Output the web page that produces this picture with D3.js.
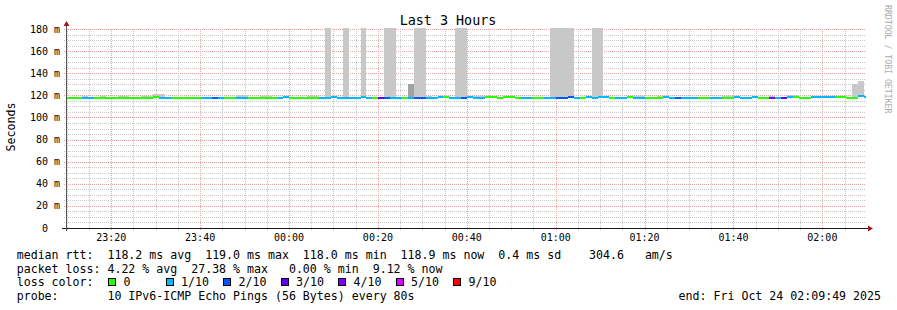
<!DOCTYPE html>
<html>
<head>
<meta charset="utf-8">
<script src="https://cdn.jsdelivr.net/npm/d3@7"></script>
<style>
  body { margin: 0; background: #fff; }
  svg text { font-family: "DejaVu Sans Mono", monospace; white-space: pre; }
</style>
</head>
<body>
<div id="wrapper"></div>
<script>
// data
const endTime = new Date(2025, 9, 24, 2, 9, 49)
const stepSeconds = 80

const yTickValues = [0, 20, 40, 60, 80, 100, 120, 140, 160, 180]

const lossLevels = [0, 1, 2, 3, 4, 5, 9]
const lossLabels = ["0", "1/10", "2/10", "3/10", "4/10", "5/10", "9/10"]

// median rtt per 80 s step (ms)
const medianMs = [
  118.0, 118.0, 118.0, 118.0, 118.0, 118.0, 118.0, 118.0, 118.0, 118.0,
  118.0, 118.0, 118.0, 118.0, 118.0, 118.9, 118.0, 118.0, 118.0, 118.0,
  118.0, 118.0, 118.0, 118.0, 118.0, 118.0, 118.0, 118.0, 118.0, 118.0,
  118.0, 118.0, 118.0, 118.0, 118.0, 118.0, 118.0, 118.9, 118.0, 118.0,
  118.0, 118.0, 118.0, 118.0, 118.0, 118.9, 118.0, 118.0, 118.0, 118.0,
  118.9, 118.0, 118.0, 118.0, 118.0, 118.0, 118.0, 118.0, 118.0, 118.0,
  118.0, 118.0, 118.0, 118.9, 118.9, 118.0, 118.0, 118.0, 118.9, 118.0,
  118.0, 118.9, 118.9, 118.0, 118.9, 118.9, 118.0, 118.0, 118.0, 118.0,
  118.0, 118.0, 118.0, 118.0, 118.0, 118.9, 118.0, 118.0, 118.9, 118.0,
  118.9, 118.9, 118.0, 118.0, 118.0, 118.9, 118.0, 118.0, 118.0, 118.0,
  118.0, 118.9, 118.0, 118.0, 118.0, 118.0, 118.0, 118.0, 118.0, 118.0,
  118.0, 118.0, 118.0, 118.9, 118.0, 118.0, 118.9, 118.0, 118.0, 118.0,
  118.0, 118.0, 118.9, 118.9, 118.0, 118.0, 118.6, 118.6, 118.6, 118.6,
  118.9, 118.9, 118.0, 118.0, 119.0, 118.9
]

// lost pings out of 10 per step
const lossCount = [
  0, 0, 0, 1, 1, 0, 0, 0, 0, 0,
  0, 0, 0, 0, 0, 0, 1, 1, 0, 0,
  0, 0, 0, 1, 1, 2, 1, 0, 0, 1,
  1, 0, 0, 0, 0, 0, 1, 1, 0, 0,
  0, 0, 0, 1, 1, 1, 1, 1, 1, 1,
  1, 1, 0, 3, 2, 1, 1, 0, 1, 2,
  2, 1, 1, 1, 0, 1, 1, 2, 1, 1,
  1, 0, 0, 0, 0, 0, 0, 1, 1, 0,
  0, 1, 1, 2, 2, 2, 1, 0, 1, 1,
  1, 1, 0, 1, 1, 0, 1, 1, 0, 0,
  0, 1, 1, 2, 1, 1, 1, 0, 0, 1,
  1, 0, 0, 1, 1, 1, 1, 0, 0, 4,
  1, 3, 1, 0, 0, 0, 1, 1, 1, 1,
  0, 0, 0, 0, 1, 1
]

// top of the smoke per step (ms), null where no smoke shows
const smokeTopMs = [
  null, null, null, 119.4, null, null, 119.2, null, null, 119.6,
  119.6, null, null, 119.8, 119.8, 120.9, 120.9, null, null, null,
  null, null, null, null, null, null, null, null, null, 120.2,
  120.2, null, null, 119.6, 119.6, null, null, null, null, null,
  null, 119.4, 119.4, null, 300, null, null, 300, null, null,
  300, null, null, null, 300, 300, null, null, 130.5, 300,
  300, 119.4, null, null, null, null, 300, 300, null, 119.6,
  119.6, null, null, null, null, null, null, null, null, null,
  null, null, 300, 300, 300, 300, null, null, null, 300,
  300, null, null, null, null, null, 119.8, 119.8, null, null,
  119.6, 119.6, null, null, null, null, null, null, null, null,
  null, 119.4, 119.4, null, null, null, null, null, null, 119.6,
  null, null, 120.0, 120.0, null, null, null, null, null, null,
  null, null, null, 130.5, 133.0, null
]

// pings packed in the smoke band (sets the grey shade)
const smokePings = [
  1, 1, 1, 1, 1, 1, 1, 1, 1, 1,
  1, 1, 1, 1, 1, 1, 1, 1, 1, 1,
  1, 1, 1, 1, 1, 1, 1, 1, 1, 1,
  1, 1, 1, 1, 1, 1, 1, 1, 1, 1,
  1, 1, 1, 1, 1, 1, 1, 1, 1, 1,
  1, 1, 1, 1, 1, 1, 1, 1, 3, 1,
  1, 1, 1, 1, 1, 1, 1, 1, 1, 1,
  1, 1, 1, 1, 1, 1, 1, 1, 1, 1,
  1, 1, 1, 1, 1, 1, 1, 1, 1, 1,
  1, 1, 1, 1, 1, 1, 1, 1, 1, 1,
  1, 1, 1, 1, 1, 1, 1, 1, 1, 1,
  1, 1, 1, 1, 1, 1, 1, 1, 1, 1,
  1, 1, 1, 1, 1, 1, 1, 1, 1, 1,
  1, 1, 1, 1, 1, 1
]

const legendLines = [
  "median rtt:  118.2 ms avg  119.0 ms max  118.0 ms min  118.9 ms now  0.4 ms sd    304.6   am/s",
  "packet loss: 4.22 % avg  27.38 % max   0.00 % min  9.12 % now",
  "loss color:",
  "probe:       10 IPv6-ICMP Echo Pings (56 Bytes) every 80s"
]
const endLabel = "end: Fri Oct 24 02:09:49 2025"

drawSmokeChart()

function drawSmokeChart() {
  const dimensions = {
    width: 897,
    height: 310,
    left: 66,
    right: 866,
    top: 29,
    bottom: 228,
  }

  const startTime = d3.timeHour.offset(endTime, -3)

  const buckets = medianMs.map((m, i) => {
    const t = +startTime + i * stepSeconds * 1000
    return {
      t0: new Date(Math.max(t - 24000, +startTime)),
      t1: new Date(Math.min(t + 56000, +endTime)),
      median: m,
      loss: lossCount[i],
      top: smokeTopMs[i],
      pings: smokePings[i],
    }
  })

  const svg = d3.select("#wrapper")
    .append("svg")
      .attr("width", dimensions.width)
      .attr("height", dimensions.height)

  // scales
  const xScale = d3.scaleTime()
    .domain([startTime, endTime])
    .range([dimensions.left, dimensions.right])

  const yScale = d3.scaleLinear()
    .domain([0, 180])
    .range([dimensions.bottom, dimensions.top])

  const lossColor = d3.scaleOrdinal()
    .domain(lossLevels)
    .range(["#26ff00", "#00b8ff", "#0059ff", "#5e00ff", "#7e00ff", "#dd00ff", "#ff0000"])

  const smokeColor = d3.scaleLinear()
    .domain([1, 3])
    .range(["#c8c8c8", "#a2a2a2"])

  svg.append("defs").append("clipPath")
    .attr("id", "plot-clip")
    .append("rect")
      .attr("x", dimensions.left)
      .attr("y", dimensions.top - 1)
      .attr("width", dimensions.right - dimensions.left)
      .attr("height", dimensions.bottom - dimensions.top + 1)

  // grid
  const grid = svg.append("g")
    .attr("shape-rendering", "crispEdges")
    .attr("stroke-dasharray", "1,1")

  const yMinor = d3.range(0, 181, 5)
  grid.selectAll(".hgrid")
    .data(yMinor.filter(v => v > 0))
    .enter().append("line")
      .attr("x1", dimensions.left - 2)
      .attr("x2", dimensions.right)
      .attr("y1", d => Math.round(yScale(d)) + 0.5)
      .attr("y2", d => Math.round(yScale(d)) + 0.5)
      .attr("stroke", d => d % 20 === 0 ? "#efa3a3" : "#c8c8c8")

  const xMinor = xScale.ticks(d3.timeMinute.every(5))
  grid.selectAll(".vgrid")
    .data(xMinor)
    .enter().append("line")
      .attr("x1", d => Math.round(xScale(d)) + 0.5)
      .attr("x2", d => Math.round(xScale(d)) + 0.5)
      .attr("y1", dimensions.top)
      .attr("y2", dimensions.bottom + 2)
      .attr("stroke", d => d.getMinutes() % 20 === 0 ? "#efa3a3" : "#c8c8c8")

  // smoke
  const plot = svg.append("g").attr("clip-path", "url(#plot-clip)")
  plot.append("g")
    .attr("shape-rendering", "crispEdges")
    .selectAll("rect")
    .data(buckets.filter(d => d.top !== null))
    .enter().append("rect")
      .attr("x", d => xScale(d.t0))
      .attr("width", d => xScale(d.t1) - xScale(d.t0))
      .attr("y", d => yScale(d.top))
      .attr("height", d => yScale(d.median) - yScale(d.top))
      .attr("fill", d => smokeColor(d.pings))

  // median line coloured by loss
  plot.append("g")
    .attr("shape-rendering", "crispEdges")
    .selectAll("rect")
    .data(buckets)
    .enter().append("rect")
      .attr("x", d => xScale(d.t0))
      .attr("width", d => xScale(d.t1) - xScale(d.t0))
      .attr("y", d => yScale(d.median) - 1)
      .attr("height", 2)
      .attr("fill", d => lossColor(d.loss))

  // axes
  const axis = svg.append("g").attr("shape-rendering", "crispEdges")
  axis.append("line")
    .attr("x1", dimensions.left - 4)
    .attr("x2", dimensions.right + 3)
    .attr("y1", dimensions.bottom + 0.5)
    .attr("y2", dimensions.bottom + 0.5)
    .attr("stroke", "#1a1a1a")
  axis.append("line")
    .attr("x1", dimensions.left + 0.5)
    .attr("x2", dimensions.left + 0.5)
    .attr("y1", dimensions.bottom + 3)
    .attr("y2", dimensions.top - 5)
    .attr("stroke", "#555")

  svg.append("path")
    .attr("d", `M${dimensions.left - 2.5},${dimensions.top - 3} L${dimensions.left + 3.5},${dimensions.top - 3} L${dimensions.left + 0.5},${dimensions.top - 8} Z`)
    .attr("fill", "#9c1c1c")
  svg.append("path")
    .attr("d", `M${dimensions.right + 2},${dimensions.bottom - 2.5} L${dimensions.right + 2},${dimensions.bottom + 3.5} L${dimensions.right + 7},${dimensions.bottom + 0.5} Z`)
    .attr("fill", "#9c1c1c")

  // y labels
  svg.append("g")
    .selectAll("text")
    .data(yTickValues)
    .enter().append("text")
      .attr("x", d => d === 0 ? dimensions.left - 18 : dimensions.left - 6)
      .attr("y", d => yScale(d) + 3.6)
      .attr("text-anchor", "end")
      .attr("font-size", 10)
      .attr("fill", "#000")
      .text(d => d === 0 ? "0" : d + " m")

  // x labels
  const xLabels = xScale.ticks(d3.timeMinute.every(20))
  svg.append("g")
    .selectAll("text")
    .data(xLabels)
    .enter().append("text")
      .attr("x", d => xScale(d))
      .attr("y", 241)
      .attr("text-anchor", "middle")
      .attr("font-size", 10)
      .text(d => d3.timeFormat("%H:%M")(d))

  // title and side texts
  svg.append("text")
    .attr("x", 448)
    .attr("y", 24.5)
    .attr("text-anchor", "middle")
    .attr("font-size", 13.4)
    .text("Last 3 Hours")

  svg.append("text")
    .attr("transform", "translate(15, 127) rotate(-90)")
    .attr("text-anchor", "middle")
    .attr("font-size", 11.6)
    .text("Seconds")

  svg.append("text")
    .attr("transform", "translate(885, 5) rotate(90)")
    .attr("font-size", 8.2)
    .attr("fill", "#ababab")
    .text("RRDTOOL / TOBI OETIKER")

  // legend
  const rowY = [259, 272.7, 286.4, 300.1]
  svg.append("g")
    .selectAll("text")
    .data(legendLines)
    .enter().append("text")
      .attr("x", 16.7)
      .attr("y", (d, i) => rowY[i])
      .attr("font-size", 11.6)
      .text(d => d)

  const legendItems = svg.append("g")
    .selectAll("g")
    .data(lossLevels)
    .enter().append("g")
      .attr("transform", (d, i) => `translate(${108 + i * 57.5}, ${rowY[2] - 8})`)
  legendItems.append("rect")
    .attr("x", 0.5)
    .attr("y", 0.5)
    .attr("width", 7)
    .attr("height", 7)
    .attr("fill", d => lossColor(d))
    .attr("stroke", "#000")
    .attr("shape-rendering", "crispEdges")
  legendItems.append("text")
    .attr("x", 15.5)
    .attr("y", 8)
    .attr("font-size", 11.6)
    .text((d, i) => lossLabels[i])

  svg.append("text")
    .attr("x", 881)
    .attr("y", rowY[3])
    .attr("text-anchor", "end")
    .attr("font-size", 11.6)
    .text(endLabel)
}
</script>
</body>
</html>
